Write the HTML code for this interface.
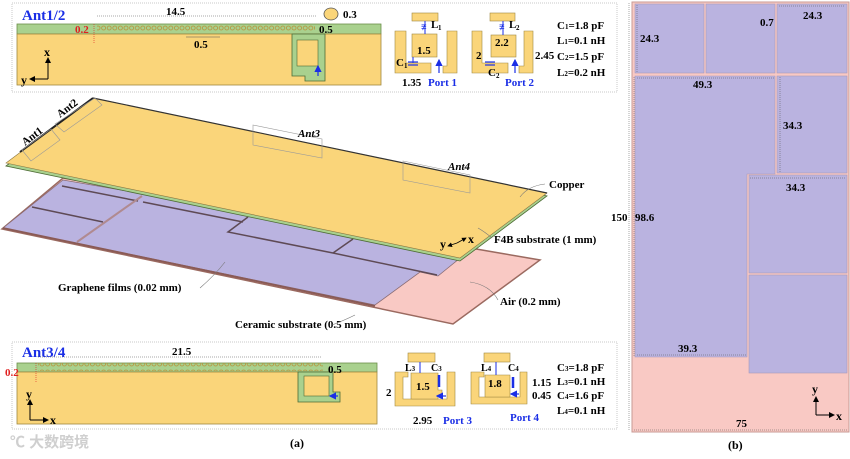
<!DOCTYPE html>
<html><head><meta charset="utf-8"><style>
html,body{margin:0;padding:0;background:#fff;}
svg{display:block;font-family:"Liberation Serif",serif;font-weight:bold;}
</style></head><body>
<svg width="850" height="459" viewBox="0 0 850 459" xmlns="http://www.w3.org/2000/svg">
<defs>
<pattern id="circ" x="0" y="0" width="5.6" height="8" patternUnits="userSpaceOnUse">
<circle cx="2.8" cy="4" r="2" fill="none" stroke="#b8913a" stroke-width="0.8"/>
</pattern>
<marker id="ar" markerWidth="6" markerHeight="6" refX="5" refY="3" orient="auto"><path d="M0,0 L6,3 L0,6z" fill="#000"/></marker>
<marker id="arb" markerWidth="6" markerHeight="6" refX="5" refY="3" orient="auto"><path d="M0,0 L6,3 L0,6z" fill="#1a2ee6"/></marker>
</defs>

<!-- ===== Top box Ant1/2 ===== -->
<rect x="12" y="3" width="605" height="89" fill="#fff" stroke="#c8c8c8" stroke-width="1" stroke-dasharray="1,1"/>
<text x="22" y="20" font-size="15" fill="#1a2ee6">Ant1/2</text>
<rect x="17" y="24" width="364" height="10" fill="#a9d18e" stroke="#6b8f4a" stroke-width="0.8"/>
<rect x="17" y="34" width="364" height="51" fill="#fad57a" stroke="#a08840" stroke-width="0.8"/>
<rect x="97" y="25" width="218" height="8" fill="url(#circ)"/>
<path d="M292,34 V76 H305 V81 H325 V34 Z" fill="#a9d18e" stroke="#4d6b35" stroke-width="0.8"/>
<rect x="297" y="40" width="21" height="26" fill="#fad57a" stroke="#4d6b35" stroke-width="0.6"/>
<line x1="318" y1="76" x2="318" y2="66" stroke="#1a2ee6" stroke-width="1.2" marker-end="url(#arb)"/>
<line x1="97" y1="16" x2="316" y2="16" stroke="#555" stroke-width="0.6" stroke-dasharray="1,1"/>
<text x="166" y="15" font-size="11">14.5</text>
<ellipse cx="331" cy="14" rx="7" ry="6" fill="#fad57a" stroke="#555" stroke-width="0.8"/>
<text x="343" y="18" font-size="11">0.3</text>
<text x="75" y="33" font-size="11" fill="#e02020">0.2</text>
<line x1="94" y1="24" x2="94" y2="44" stroke="#e02020" stroke-width="0.6" stroke-dasharray="1,1"/>
<text x="319" y="33" font-size="11">0.5</text>
<text x="194" y="48" font-size="11">0.5</text>
<line x1="186" y1="37" x2="220" y2="37" stroke="#555" stroke-width="0.5"/>
<line x1="48" y1="79" x2="48" y2="58" stroke="#000" stroke-width="1" marker-end="url(#ar)"/>
<line x1="48" y1="79" x2="30" y2="79" stroke="#000" stroke-width="1" marker-end="url(#ar)"/>
<text x="44" y="56" font-size="12">x</text>
<text x="21" y="84" font-size="12">y</text>

<!-- Port1 element -->
<rect x="412" y="13" width="26" height="8" fill="#fad57a" stroke="#a08840" stroke-width="0.6"/>
<path d="M395,31 H406 V63 H431 V73 H395 Z" fill="#fad57a" stroke="#a08840" stroke-width="0.6"/>
<path d="M447,31 H457 V73 H443 V66 H447 Z" fill="#fad57a" stroke="#a08840" stroke-width="0.6"/>
<rect x="412" y="34" width="25" height="23" fill="#fad57a" stroke="#a08840" stroke-width="0.6"/>
<text x="417" y="54" font-size="11">1.5</text>
<line x1="425" y1="21" x2="425" y2="34" stroke="#1a2ee6" stroke-width="1"/>
<text x="421" y="30" font-size="10" fill="#1a2ee6">≢</text>
<text x="431" y="28" font-size="11">L</text><text x="438" y="30" font-size="7">1</text>
<line x1="439" y1="73" x2="439" y2="60" stroke="#1a2ee6" stroke-width="1.2" marker-end="url(#arb)"/>
<line x1="413" y1="57" x2="413" y2="63" stroke="#1a2ee6" stroke-width="1"/>
<line x1="408" y1="62" x2="418" y2="62" stroke="#1a2ee6" stroke-width="1.2"/>
<line x1="408" y1="65" x2="418" y2="65" stroke="#1a2ee6" stroke-width="1.2"/>
<text x="396" y="66" font-size="11">C</text><text x="404" y="68" font-size="7">1</text>
<text x="402" y="86" font-size="11">1.35</text>
<text x="428" y="86" font-size="11" fill="#1a2ee6">Port 1</text>

<!-- Port2 element -->
<rect x="490" y="13" width="25" height="8" fill="#fad57a" stroke="#a08840" stroke-width="0.6"/>
<path d="M472,31 H482 V63 H508 V73 H472 Z" fill="#fad57a" stroke="#a08840" stroke-width="0.6"/>
<path d="M524,31 H533 V73 H519 V66 H524 Z" fill="#fad57a" stroke="#a08840" stroke-width="0.6"/>
<rect x="491" y="35" width="25" height="22" fill="#fad57a" stroke="#a08840" stroke-width="0.6"/>
<text x="495" y="46" font-size="11">2.2</text>
<text x="476" y="59" font-size="11">2</text>
<line x1="503" y1="21" x2="503" y2="35" stroke="#1a2ee6" stroke-width="1"/>
<text x="499" y="30" font-size="10" fill="#1a2ee6">≢</text>
<text x="509" y="28" font-size="11">L</text><text x="516" y="30" font-size="7">2</text>
<line x1="515" y1="73" x2="515" y2="60" stroke="#1a2ee6" stroke-width="1.2" marker-end="url(#arb)"/>
<line x1="485" y1="62" x2="495" y2="62" stroke="#1a2ee6" stroke-width="1.2"/>
<line x1="485" y1="65" x2="495" y2="65" stroke="#1a2ee6" stroke-width="1.2"/>
<text x="488" y="76" font-size="11">C</text><text x="496" y="78" font-size="7">2</text>
<text x="505" y="86" font-size="11" fill="#1a2ee6">Port 2</text>
<text x="535" y="59" font-size="11">2.45</text>
<g font-size="11">
<text x="557" y="29">C<tspan font-size="7">1</tspan>=1.8 pF</text>
<text x="557" y="44">L<tspan font-size="7">1</tspan>=0.1 nH</text>
<text x="557" y="60">C<tspan font-size="7">2</tspan>=1.5 pF</text>
<text x="557" y="76">L<tspan font-size="7">2</tspan>=0.2 nH</text>
</g>

<!-- ===== 3D exploded view ===== -->
<polygon points="2,229 63,178 540,260 453,324" fill="#f9c9c4" stroke="#9b6a60" stroke-width="1.5"/>
<polygon points="3,228 63,180 470,250 438,276 420,272 375,305" fill="#bab3e0" stroke="#8a6c74" stroke-width="0.8"/>
<g stroke="#5e4a55" stroke-width="1.5" fill="none">
<line x1="62" y1="186" x2="138" y2="201"/>
<line x1="143" y1="202" x2="243" y2="222"/>
<line x1="32" y1="207" x2="103" y2="222"/>
<polyline points="248,217 228,232 333,253 437,275"/>
<line x1="333" y1="253" x2="353" y2="239"/>
</g>
<line x1="77" y1="242" x2="142" y2="196" stroke="#b08a90" stroke-width="2"/>
<line x1="3" y1="228" x2="375" y2="306" stroke="#8a5a55" stroke-width="1.8"/>
<polygon points="6,166 93,101 547,196 460,261" fill="#a9d18e" stroke="#4d6b35" stroke-width="0.8"/>
<polygon points="6,163 93,98 547,193 460,258" fill="#fad57a" stroke="#8a7540" stroke-width="0.6"/>
<line x1="93" y1="98" x2="547" y2="193" stroke="#333" stroke-width="1.2"/>
<line x1="20" y1="152" x2="93" y2="98" stroke="#222" stroke-width="2"/>
<g fill="none" stroke="#999" stroke-width="0.6">
<polygon points="22,150 51,129 60,140 31,161"/>
<polygon points="55,124 95,98 102,105 64,132"/>
<polygon points="253,125 322,139 322,158 253,145"/>
<polygon points="403,161 470,175 470,193 403,180"/>
</g>
<g font-size="11">
<text transform="translate(25,146) rotate(-37)">Ant1</text>
<text transform="translate(60,118) rotate(-37)">Ant2</text>
<text x="298" y="137" font-style="italic">Ant3</text>
<text x="448" y="170" font-style="italic">Ant4</text>
<text x="549" y="188">Copper</text>
<text x="494" y="243">F4B substrate (1 mm)</text>
<text x="58" y="291">Graphene films (0.02 mm)</text>
<text x="500" y="305">Air (0.2 mm)</text>
<text x="235" y="328">Ceramic substrate (0.5 mm)</text>
<text x="440" y="248" font-size="12">y</text>
<text x="468" y="243" font-size="12">x</text>
</g>
<line x1="457" y1="243" x2="448" y2="246" stroke="#000" stroke-width="0.8" marker-end="url(#ar)"/>
<line x1="457" y1="243" x2="466" y2="238" stroke="#000" stroke-width="0.8" marker-end="url(#ar)"/>
<g fill="none" stroke="#777" stroke-width="0.6">
<path d="M545,184 Q528,186 520,197"/>
<path d="M492,238 Q485,232 478,228"/>
<path d="M200,288 Q215,275 225,262"/>
<path d="M498,300 Q490,285 470,282"/>
<path d="M332,325 Q345,320 355,315"/>
</g>

<!-- ===== Bottom box Ant3/4 ===== -->
<rect x="12" y="342" width="605" height="87" fill="#fff" stroke="#c8c8c8" stroke-width="1" stroke-dasharray="1,1"/>
<text x="22" y="357" font-size="15" fill="#1a2ee6">Ant3/4</text>
<rect x="17" y="363" width="360" height="9" fill="#a9d18e" stroke="#6b8f4a" stroke-width="0.8"/>
<rect x="17" y="372" width="360" height="52" fill="#fad57a" stroke="#a08840" stroke-width="0.8"/>
<rect x="38" y="363" width="285" height="8" fill="url(#circ)"/>
<path d="M298,372 V402 H340 V392 H333 V372 Z" fill="#a9d18e" stroke="#4d6b35" stroke-width="0.8"/>
<rect x="304" y="376" width="25" height="20" fill="#fad57a" stroke="#4d6b35" stroke-width="0.6"/>
<line x1="338" y1="396" x2="330" y2="396" stroke="#1a2ee6" stroke-width="1.2" marker-end="url(#arb)"/>
<line x1="38" y1="357" x2="322" y2="357" stroke="#555" stroke-width="0.6" stroke-dasharray="1,1"/>
<text x="172" y="355" font-size="11">21.5</text>
<text x="5" y="376" font-size="11" fill="#e02020">0.2</text>
<line x1="36" y1="363" x2="36" y2="382" stroke="#e02020" stroke-width="0.6" stroke-dasharray="1,1"/>
<text x="328" y="373" font-size="11">0.5</text>
<line x1="30" y1="420" x2="30" y2="400" stroke="#000" stroke-width="1" marker-end="url(#ar)"/>
<line x1="30" y1="420" x2="48" y2="420" stroke="#000" stroke-width="1" marker-end="url(#ar)"/>
<text x="26" y="398" font-size="12">y</text>
<text x="50" y="424" font-size="12">x</text>

<!-- Port3 -->
<rect x="408" y="353" width="27" height="9" fill="#fad57a" stroke="#a08840" stroke-width="0.6"/>
<path d="M395,372 H408 V377 H403 V399 H447 V372 H455 V406 H395 Z" fill="#fad57a" stroke="#a08840" stroke-width="0.6"/>
<path d="M411,373 H438 V390 H442 V395 H438 V399 H411 Z" fill="#fad57a" stroke="#a08840" stroke-width="0.6"/>
<text x="416" y="390" font-size="11">1.5</text>
<text x="386" y="396" font-size="11">2</text>
<line x1="420" y1="362" x2="420" y2="373" stroke="#1a2ee6" stroke-width="1"/>
<text x="405" y="371" font-size="10">L<tspan font-size="7">3</tspan></text>
<text x="431" y="371" font-size="10">C<tspan font-size="7">3</tspan></text>
<line x1="439" y1="375" x2="439" y2="387" stroke="#1a2ee6" stroke-width="2.5"/>
<line x1="446" y1="396" x2="437" y2="396" stroke="#1a2ee6" stroke-width="1.2" marker-end="url(#arb)"/>
<text x="413" y="424" font-size="11">2.95</text>
<text x="443" y="424" font-size="11" fill="#1a2ee6">Port 3</text>
<!-- Port4 -->
<rect x="484" y="353" width="26" height="9" fill="#fad57a" stroke="#a08840" stroke-width="0.6"/>
<path d="M471,372 H484 V377 H479 V397 H520 V372 H527 V404 H471 Z" fill="#fad57a" stroke="#a08840" stroke-width="0.6"/>
<path d="M485,375 H510 V397 H485 Z" fill="#fad57a" stroke="#a08840" stroke-width="0.6"/>
<text x="488" y="387" font-size="11">1.8</text>
<line x1="496" y1="362" x2="496" y2="375" stroke="#1a2ee6" stroke-width="1"/>
<text x="481" y="371" font-size="10">L<tspan font-size="7">4</tspan></text>
<text x="508" y="371" font-size="10">C<tspan font-size="7">4</tspan></text>
<line x1="513" y1="377" x2="513" y2="388" stroke="#1a2ee6" stroke-width="2.5"/>
<line x1="519" y1="394" x2="511" y2="394" stroke="#1a2ee6" stroke-width="1.2" marker-end="url(#arb)"/>
<text x="510" y="421" font-size="11" fill="#1a2ee6">Port 4</text>
<text x="532" y="386" font-size="11">1.15</text>
<text x="532" y="399" font-size="11">0.45</text>
<g font-size="11">
<text x="557" y="371">C<tspan font-size="7">3</tspan>=1.8 pF</text>
<text x="557" y="385">L<tspan font-size="7">3</tspan>=0.1 nH</text>
<text x="557" y="399">C<tspan font-size="7">4</tspan>=1.6 pF</text>
<text x="557" y="414">L<tspan font-size="7">4</tspan>=0.1 nH</text>
</g>
<text x="10" y="447" font-size="15" fill="#cfcfcf" font-family="'Liberation Sans','Noto Sans CJK SC',sans-serif">℃ 大数跨境</text>
<text x="290" y="447" font-size="12">(a)</text>

<!-- ===== (b) ===== -->
<rect x="632" y="2" width="217" height="430" fill="#f9c9c4" stroke="#c89a95" stroke-width="1"/>
<g fill="#bab3e0" stroke="#a89aba" stroke-width="0.6">
<rect x="635" y="4" width="69" height="69"/>
<rect x="706" y="4" width="69" height="69"/>
<rect x="777" y="4" width="70" height="69"/>
<path d="M635,76 H775 V174 H747 V357 H635 Z"/>
<rect x="777" y="76" width="70" height="97"/>
<rect x="749" y="175" width="98" height="98"/>
<rect x="749" y="275" width="98" height="98"/>
</g>
<g stroke="#555" stroke-width="0.5" stroke-dasharray="1,1" fill="none">
<line x1="637" y1="5" x2="637" y2="72"/>
<line x1="779" y1="6" x2="845" y2="6"/>
<line x1="637" y1="78" x2="774" y2="78"/>
<line x1="780" y1="77" x2="780" y2="172"/>
<line x1="750" y1="178" x2="846" y2="178"/>
<line x1="637" y1="355" x2="746" y2="355"/>
<line x1="634" y1="430" x2="847" y2="430"/>
<line x1="629" y1="3" x2="629" y2="431"/>
<line x1="634" y1="77" x2="634" y2="356"/>
</g>
<g font-size="11">
<text x="640" y="42">24.3</text>
<text x="760" y="26">0.7</text>
<text x="803" y="19">24.3</text>
<text x="693" y="88">49.3</text>
<text x="783" y="129">34.3</text>
<text x="786" y="191">34.3</text>
<text x="611" y="221">150</text>
<text x="635" y="221">98.6</text>
<text x="678" y="352">39.3</text>
<text x="736" y="427">75</text>
<text x="812" y="393" font-size="12">y</text>
<text x="836" y="420" font-size="12">x</text>
<text x="728" y="449" font-size="12">(b)</text>
</g>
<line x1="816" y1="415" x2="816" y2="397" stroke="#000" stroke-width="1" marker-end="url(#ar)"/>
<line x1="816" y1="415" x2="834" y2="415" stroke="#000" stroke-width="1" marker-end="url(#ar)"/>
</svg>
</body></html>
